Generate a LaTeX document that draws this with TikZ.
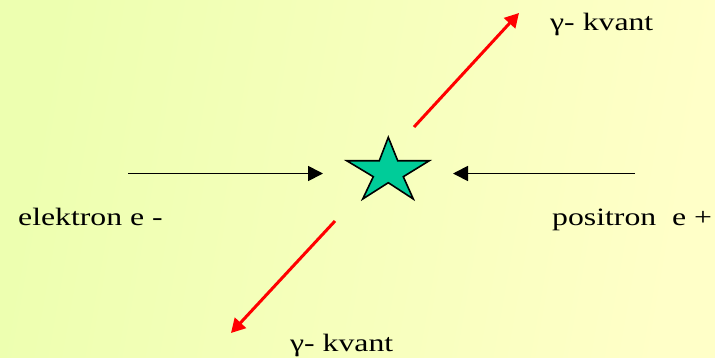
\documentclass[tikz,border=0pt]{standalone}
\usepackage{fontspec}
\setmainfont{Liberation Serif}
\usetikzlibrary{arrows.meta}
\definecolor{bgleft}{RGB}{237,255,176}
\definecolor{bgright}{RGB}{255,255,200}
\definecolor{stargreen}{RGB}{0,204,153}
\newcommand{\wide}[1]{\scalebox{1.27}[1]{#1}}
\tikzset{
  lbl/.style={anchor=base west,inner sep=0pt,font=\fontsize{25}{29}\selectfont},
  particle/.style={line width=1.8pt,-{Triangle[length=15pt,width=15pt]}},
  photon/.style={red,line width=3pt,-{Triangle[length=14pt,width=15pt]}}
}
\begin{document}
\begin{tikzpicture}[x=1pt,y=-1pt]
\shade[left color=bgleft,right color=bgright,shading angle=80] (0,0) rectangle (715,357);
\useasboundingbox (0,0) rectangle (715,357);
\filldraw[fill=stargreen,draw=black,line width=1.6pt,line join=miter]
  (388.3,137.3) -- (397.7,160.7) -- (429.3,160.7) -- (403.3,176.7) -- (413.3,199)
  -- (388.3,182.7) -- (362.7,199) -- (373.3,176.7) -- (346.7,160.7) -- (379.3,160.7) -- cycle;
\coordinate (e1) at (128,173.5);
\coordinate (e2) at (323,173.5);
\coordinate (p1) at (635,173.5);
\coordinate (p2) at (453,173.5);
\coordinate (g1) at (414,127);
\coordinate (g2) at (519,13);
\coordinate (g3) at (335,221);
\coordinate (g4) at (231,333);
\draw[particle] (e1) -- (e2);
\draw[particle] (p1) -- (p2);
\draw[photon] (g1) -- (g2);
\draw[photon] (g3) -- (g4);
\path (18,225) node[lbl] (elektron) {\wide{elektron e -}};
\path (552,225) node[lbl] (positron) {\wide{positron\ \ e +}};
\path (550,30) node[lbl] (kvanttop) {\wide{γ- kvant}};
\path (290,351.5) node[lbl] (kvantbot) {\wide{γ- kvant}};
\end{tikzpicture}
\end{document}
